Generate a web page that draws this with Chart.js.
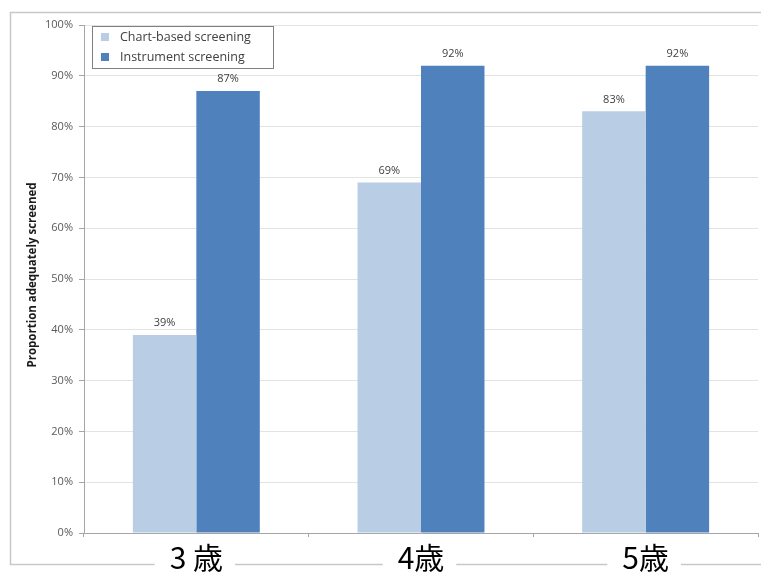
<!DOCTYPE html>
<html>
<head>
<meta charset="utf-8">
<script src="https://cdn.jsdelivr.net/npm/chart.js@4/dist/chart.umd.min.js"></script>
<style>
  html, body { margin: 0; padding: 0; background: #fff; }
  #wrap { width: 761px; height: 574px; position: relative; }
</style>
</head>
<body>
<div id="wrap"><canvas id="c" width="761" height="574"></canvas></div>
<script>
// Age groups and screening rates (%)
const ageGroups = ['3 歳', '4歳', '5歳'];
const chartBased = [39, 69, 83];
const instrument = [87, 92, 92];
const seriesNames = ['Chart-based screening', 'Instrument screening'];
const yTicks = [0, 10, 20, 30, 40, 50, 60, 70, 80, 90, 100];
const yTitle = 'Proportion adequately screened';

const LIGHT = '#B9CDE5';
const DARK = '#4F81BD';
const TXT = '#404040';
const UIFONT = '"Open Sans", "Liberation Sans", sans-serif';

// Outer frame; drawn first so the category labels can sit over its bottom edge
const framePlugin = {
  id: 'frame',
  beforeDraw(chart) {
    const ctx = chart.ctx;
    ctx.save();
    ctx.fillStyle = '#fff';
    ctx.fillRect(0, 0, chart.width, chart.height);
    ctx.strokeStyle = '#c8c8c8';
    ctx.lineWidth = 1.5;
    ctx.strokeRect(10.5, 12.5, chart.width + 20, 552);
    ctx.restore();
  }
};

// Value labels above each bar, axis title and legend box
const decorPlugin = {
  id: 'decor',
  afterDatasetsDraw(chart) {
    const ctx = chart.ctx;
    ctx.save();
    ctx.font = '11px ' + UIFONT;
    ctx.fillStyle = TXT;
    ctx.textAlign = 'center';
    ctx.textBaseline = 'middle';
    chart.data.datasets.forEach((ds, di) => {
      chart.getDatasetMeta(di).data.forEach((bar, i) => {
        ctx.fillText(ds.data[i] + '%', bar.x, bar.y - 12);
      });
    });

    // rotated y-axis title
    const area = chart.chartArea;
    ctx.translate(33, (area.top + area.bottom) / 2 - 4);
    ctx.rotate(-Math.PI / 2);
    ctx.font = 'bold 11.5px ' + UIFONT;
    ctx.fillStyle = '#1a1a1a';
    ctx.fillText(yTitle, 0, 0);
    ctx.setTransform(1, 0, 0, 1, 0, 0);

    // legend box in the upper left of the plot
    const lx = 92, ly = 26, lw = 181, lh = 42;
    ctx.fillStyle = '#fff';
    ctx.fillRect(lx, ly, lw, lh);
    ctx.strokeStyle = '#7f7f7f';
    ctx.lineWidth = 1;
    ctx.strokeRect(lx + 0.5, ly + 0.5, lw, lh);
    ctx.font = '12.5px ' + UIFONT;
    ctx.textAlign = 'left';
    chart.data.datasets.forEach((ds, di) => {
      const cy = ly + 11 + di * 20;
      ctx.fillStyle = ds.backgroundColor;
      ctx.fillRect(lx + 9, cy - 4, 8, 8);
      ctx.fillStyle = TXT;
      ctx.fillText(ds.label, lx + 28, cy);
    });
    ctx.restore();
  }
};

new Chart(document.getElementById('c'), {
  type: 'bar',
  data: {
    labels: ageGroups,
    datasets: [
      { label: seriesNames[0], data: chartBased, backgroundColor: LIGHT,
        categoryPercentage: 0.565, barPercentage: 1.0 },
      { label: seriesNames[1], data: instrument, backgroundColor: DARK,
        categoryPercentage: 0.565, barPercentage: 1.0 }
    ]
  },
  options: {
    responsive: false,
    animation: false,
    layout: { padding: { left: 0, top: 25, right: 3, bottom: 0 } },
    plugins: { legend: { display: false }, tooltip: { enabled: false } },
    scales: {
      x: {
        afterFit(scale) { scale.height = 41; },
        border: { color: '#a6a6a6', width: 1 },
        grid: { drawOnChartArea: false, color: '#a6a6a6', tickLength: 4, offset: true },
        ticks: {
          color: '#000',
          font: { family: '"Noto Sans CJK JP", sans-serif', size: 30, lineHeight: 1.2 },
          padding: 3,
          maxRotation: 0,
          showLabelBackdrop: true,
          backdropColor: '#fff',
          backdropPadding: { left: 15, right: 12, top: 0, bottom: 0 }
        }
      },
      y: {
        min: 0,
        max: 100,
        afterFit(scale) { scale.width = 84; },
        afterBuildTicks(scale) { scale.ticks = yTicks.map(v => ({ value: v })); },
        border: { color: '#a6a6a6', width: 1 },
        grid: { color: '#e3e3e3', tickLength: 5, tickColor: '#a6a6a6' },
        ticks: {
          color: '#595959',
          font: { family: UIFONT, size: 11 },
          padding: 6,
          callback: v => v + '%'
        }
      }
    }
  },
  plugins: [framePlugin, decorPlugin]
});
</script>
</body>
</html>
